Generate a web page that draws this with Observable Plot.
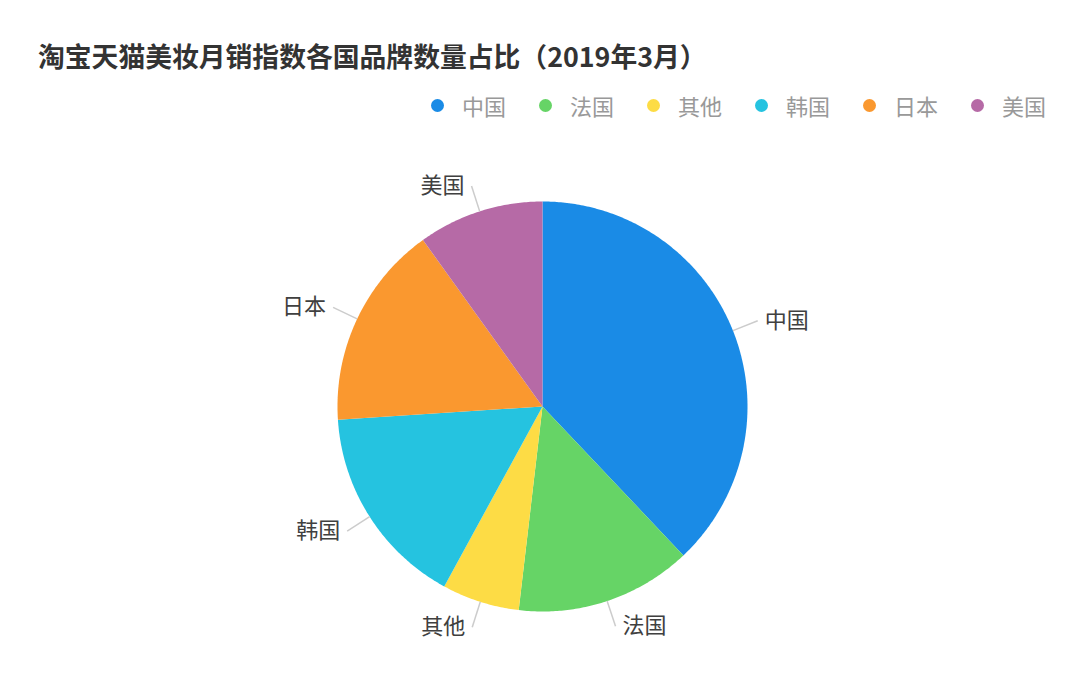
<!DOCTYPE html>
<html>
<head>
<meta charset="utf-8">
<script src="https://cdn.jsdelivr.net/npm/d3@7"></script>
<script src="https://cdn.jsdelivr.net/npm/@observablehq/plot@0.6"></script>
<style>
  html, body { margin: 0; padding: 0; background: #fff; }
  body { width: 1080px; height: 680px; overflow: hidden; font-family: "Noto Sans CJK SC", "Noto Sans", sans-serif; }
  #title { position: absolute; left: 38px; top: 39px; height: 34px; line-height: 34px; font-size: 26.8px; font-weight: bold; color: #333; white-space: nowrap; }
  #legend { position: absolute; right: 34px; top: 91px; height: 28px; display: flex; align-items: center; }
  .item { display: flex; align-items: center; margin-left: 33px; font-size: 22px; color: #999; }
  .dot { width: 13px; height: 13px; border-radius: 50%; margin-right: 18px; }
  #chart { position: absolute; left: 0; top: 130px; }
</style>
</head>
<body>
<div id="title">淘宝天猫美妆月销指数各国品牌数量占比（2019年3月）</div>
<div id="legend"></div>
<div id="chart"></div>
<script>
const countries = ["中国", "法国", "其他", "韩国", "日本", "美国"];
const shares = [37.9, 13.9, 6.1, 16.0, 16.1, 9.9];
const colors = ["#1a8be6", "#66d466", "#fddc45", "#25c3e0", "#fa982f", "#b66aa6"];

const W = 1080, H = 550;
const cx = 542, cy = 276, R = 205;

const arcs = d3.pie().sort(null)(shares);

// slice polygons in unit-circle coordinates (y up)
const slicePts = [];
arcs.forEach((a, i) => {
  slicePts.push({country: countries[i], x: 0, y: 0});
  const n = Math.max(4, Math.ceil((a.endAngle - a.startAngle) / 0.01));
  for (let k = 0; k <= n; k++) {
    const t = a.startAngle + (a.endAngle - a.startAngle) * k / n;
    slicePts.push({country: countries[i], x: Math.sin(t), y: Math.cos(t)});
  }
});

// leader lines and labels
const labels = arcs.map((a, i) => {
  const m = (a.startAngle + a.endAngle) / 2;
  return {
    country: countries[i],
    x1: Math.sin(m), y1: Math.cos(m),
    x2: 1.13 * Math.sin(m), y2: 1.13 * Math.cos(m),
    right: Math.sin(m) >= 0
  };
});

const plot = Plot.plot({
  width: W,
  height: H,
  margin: 0,
  style: {fontFamily: '"Noto Sans CJK SC", "Noto Sans", sans-serif', background: "#fff"},
  x: {domain: [-1, 1], range: [cx - R, cx + R], axis: null},
  y: {domain: [-1, 1], range: [cy + R, cy - R], axis: null},
  color: {domain: countries, range: colors},
  marks: [
    Plot.line(slicePts, {x: "x", y: "y", z: "country", fill: "country", stroke: "none", curve: "linear-closed"}),
    Plot.link(labels, {x1: "x1", y1: "y1", x2: "x2", y2: "y2", stroke: "#cccccc", strokeWidth: 1.5}),
    Plot.text(labels.filter(d => d.right), {x: "x2", y: "y2", text: "country", textAnchor: "start", dx: 7, dy: 0, fontSize: 22, fill: "#404040"}),
    Plot.text(labels.filter(d => !d.right), {x: "x2", y: "y2", text: "country", textAnchor: "end", dx: -7, dy: 0, fontSize: 22, fill: "#404040"})
  ]
});
document.getElementById("chart").appendChild(plot);

// legend
const legend = document.getElementById("legend");
countries.forEach((c, i) => {
  const item = document.createElement("div");
  item.className = "item";
  const dot = document.createElement("span");
  dot.className = "dot";
  dot.style.background = colors[i];
  const label = document.createElement("span");
  label.textContent = c;
  item.appendChild(dot);
  item.appendChild(label);
  legend.appendChild(item);
});
</script>
</body>
</html>
